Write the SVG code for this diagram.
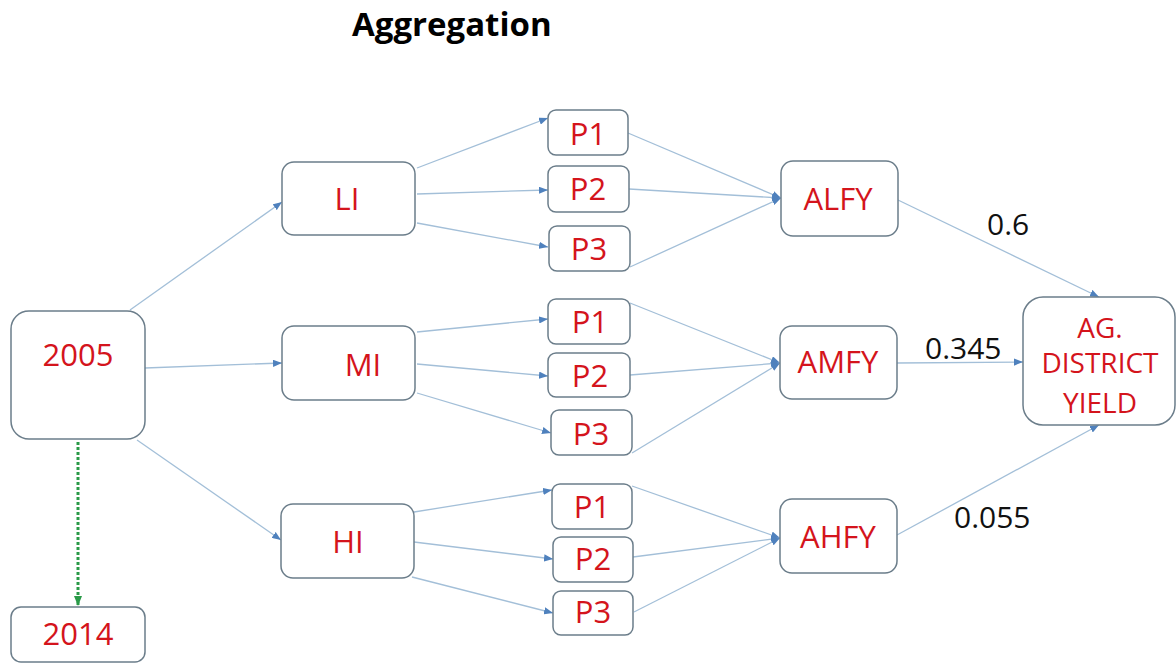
<svg xmlns="http://www.w3.org/2000/svg" width="1176" height="663" viewBox="0 0 1176 663">
<style>
.box{fill:#fff;stroke:#6b7d8a;stroke-width:1.5}
.lbl{font-family:"Open Sans","Liberation Sans",sans-serif;font-size:31px;fill:#d4141c;text-anchor:middle}
.ag{font-size:28px}
.w{font-family:"Open Sans","Liberation Sans",sans-serif;font-size:30px;fill:#111}
.c{stroke:#a3bfd8;stroke-width:1.3;fill:none;marker-end:url(#ah)}
.g{stroke:#2a9a48;stroke-width:3;stroke-dasharray:3 2;fill:none;marker-end:url(#gh)}
</style>
<defs>
<marker id="ah" viewBox="0 0 10 8" refX="10" refY="4" markerWidth="9" markerHeight="7.2" markerUnits="userSpaceOnUse" orient="auto"><path d="M0,0 L10,4 L0,8 z" fill="#4f81bd"/></marker>
<marker id="gh" viewBox="0 0 10 8" refX="10" refY="4" markerWidth="10" markerHeight="8" markerUnits="userSpaceOnUse" orient="auto"><path d="M0,0 L10,4 L0,8 z" fill="#2a9a48"/></marker>
</defs>
<rect width="1176" height="663" fill="#fff"/>
<text x="352" y="36" font-family="'Open Sans','Liberation Sans',sans-serif" font-size="33" font-weight="bold" fill="#000">Aggregation</text>
<g id="connectors">
<line class="c" x1="130" y1="310" x2="282" y2="202"/>
<line class="c" x1="145" y1="368" x2="282" y2="363"/>
<line class="c" x1="137" y1="440" x2="281" y2="540"/>
<line class="g" x1="78" y1="442" x2="78" y2="606"/>
<line class="c" x1="417" y1="168" x2="548" y2="118"/>
<line class="c" x1="417" y1="194" x2="548" y2="190"/>
<line class="c" x1="417" y1="223" x2="548" y2="247"/>
<line class="c" x1="417" y1="332" x2="548" y2="319"/>
<line class="c" x1="417" y1="364" x2="548" y2="376"/>
<line class="c" x1="417" y1="393" x2="551" y2="433"/>
<line class="c" x1="414" y1="512" x2="552" y2="490"/>
<line class="c" x1="414" y1="542" x2="553" y2="559"/>
<line class="c" x1="412" y1="577" x2="553" y2="613"/>
<line class="c" x1="628" y1="133" x2="781" y2="198"/>
<line class="c" x1="629" y1="189" x2="781" y2="198"/>
<line class="c" x1="630" y1="267" x2="781" y2="198"/>
<line class="c" x1="630" y1="303" x2="780" y2="363"/>
<line class="c" x1="630" y1="375" x2="780" y2="363"/>
<line class="c" x1="632" y1="453" x2="780" y2="363"/>
<line class="c" x1="632" y1="486" x2="780" y2="538"/>
<line class="c" x1="633" y1="557" x2="780" y2="538"/>
<line class="c" x1="634" y1="612" x2="780" y2="538"/>
<line class="c" x1="898" y1="200" x2="1099" y2="297"/>
<line class="c" x1="897" y1="363" x2="1023" y2="362"/>
<line class="c" x1="897" y1="535" x2="1099" y2="425"/>
<text class="w" x="987" y="235">0.6</text>
<text class="w" x="925" y="359">0.345</text>
<text class="w" x="954" y="528">0.055</text>
</g>
<g id="n2005"><rect class="box" x="11" y="311" width="134" height="128" rx="18"/><text class="lbl" x="78" y="366">2005</text></g>
<g id="n2014"><rect class="box" x="11" y="607" width="134" height="55" rx="10"/><text class="lbl" x="78" y="645">2014</text></g>
<g id="LI"><rect class="box" x="282" y="162" width="133" height="73" rx="12"/><text class="lbl" x="347" y="210">LI</text></g>
<g id="MI"><rect class="box" x="282" y="326" width="133" height="74" rx="12"/><text class="lbl" x="363" y="376">MI</text></g>
<g id="HI"><rect class="box" x="281" y="504" width="133" height="74" rx="12"/><text class="lbl" x="348" y="553">HI</text></g>
<g id="LI_P1"><rect class="box" x="548" y="110" width="80" height="45" rx="8"/><text class="lbl" x="588" y="145">P1</text></g>
<g id="LI_P2"><rect class="box" x="548" y="166" width="81" height="46" rx="8"/><text class="lbl" x="588" y="200">P2</text></g>
<g id="LI_P3"><rect class="box" x="549" y="226" width="81" height="45" rx="8"/><text class="lbl" x="589" y="260">P3</text></g>
<g id="MI_P1"><rect class="box" x="548" y="299" width="82" height="45" rx="8"/><text class="lbl" x="590" y="333">P1</text></g>
<g id="MI_P2"><rect class="box" x="548" y="353" width="82" height="44" rx="8"/><text class="lbl" x="590" y="387">P2</text></g>
<g id="MI_P3"><rect class="box" x="551" y="410" width="81" height="45" rx="8"/><text class="lbl" x="591" y="445">P3</text></g>
<g id="HI_P1"><rect class="box" x="552" y="484" width="80" height="45" rx="8"/><text class="lbl" x="592" y="518">P1</text></g>
<g id="HI_P2"><rect class="box" x="553" y="537" width="80" height="45" rx="8"/><text class="lbl" x="593" y="570">P2</text></g>
<g id="HI_P3"><rect class="box" x="553" y="591" width="80" height="44" rx="8"/><text class="lbl" x="593" y="623">P3</text></g>
<g id="ALFY"><rect class="box" x="781" y="161" width="117" height="75" rx="12"/><text class="lbl" x="838" y="210">ALFY</text></g>
<g id="AMFY"><rect class="box" x="780" y="326" width="117" height="73" rx="12"/><text class="lbl" x="838" y="373">AMFY</text></g>
<g id="AHFY"><rect class="box" x="780" y="499" width="117" height="74" rx="12"/><text class="lbl" x="838" y="548">AHFY</text></g>
<g id="AG"><rect class="box" x="1023" y="297" width="152" height="128" rx="20"/><text class="lbl ag" x="1100" y="338">AG.</text><text class="lbl ag" x="1100" y="373">DISTRICT</text><text class="lbl ag" x="1100" y="413">YIELD</text></g>
</svg>
